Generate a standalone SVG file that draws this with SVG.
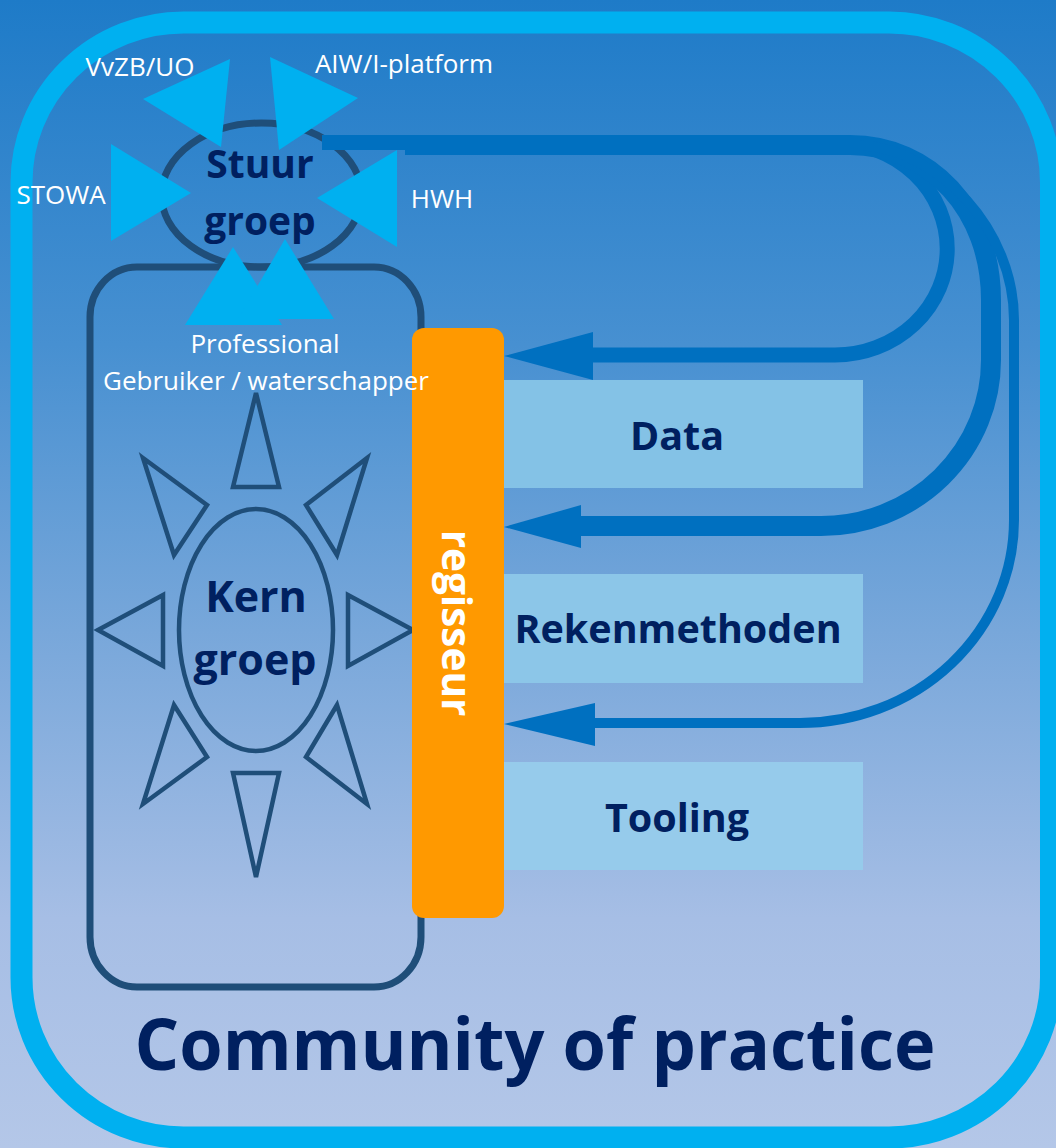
<svg xmlns="http://www.w3.org/2000/svg" width="1056" height="1148" viewBox="0 0 1056 1148">
  <defs>
    <linearGradient id="bg" x1="0" y1="0" x2="0" y2="1">
      <stop offset="0" stop-color="#1e7bc8"/>
      <stop offset="0.3" stop-color="#4790d1"/>
      <stop offset="0.55" stop-color="#78a7da"/>
      <stop offset="0.8" stop-color="#a6bee5"/>
      <stop offset="1" stop-color="#b4c7e8"/>
    </linearGradient>
    <style>
      .frame { fill: none; stroke: #00b0f0; stroke-width: 22; }
      .outline { fill: none; stroke: #1f4e79; stroke-width: 7; }
      .ray { fill: none; stroke: #1f4e79; stroke-width: 4.5; stroke-linejoin: miter; }
      .partner { fill: #00b0f0; }
      .flow { fill: none; stroke: #0070c0; }
      .head { fill: #0070c0; }
      .lbl { font-family: "Open Sans", "Liberation Sans", sans-serif; fill: #ffffff; font-size: 26px; text-anchor: middle; }
      .title { font-family: "Open Sans", "Liberation Sans", sans-serif; font-weight: bold; fill: #002060; text-anchor: middle; }
      .pillar { font-family: "Open Sans", "Liberation Sans", sans-serif; font-weight: bold; fill: #002060; font-size: 39.5px; text-anchor: middle; }
    </style>
  </defs>

  <!-- background -->
  <rect x="0" y="0" width="1056" height="1148" fill="url(#bg)"/>

  <!-- community frame -->
  <g id="community">
    <rect class="frame" x="21.5" y="22.5" width="1029.5" height="1115" rx="162" ry="160"/>
    <text class="title" x="535" y="1070" font-size="72" textLength="801" lengthAdjust="spacingAndGlyphs">Community of practice</text>
  </g>

  <!-- pillars -->
  <g id="data">
    <rect x="504" y="380" width="359" height="108" fill="#84c2e6"/>
    <text class="pillar" x="677" y="450">Data</text>
  </g>
  <g id="rekenmethoden">
    <rect x="504" y="574" width="359" height="109" fill="#8cc6e8"/>
    <text class="pillar" x="678" y="643">Rekenmethoden</text>
  </g>
  <g id="tooling">
    <rect x="504" y="762" width="359" height="108" fill="#96cbeb"/>
    <text class="pillar" x="677" y="832">Tooling</text>
  </g>

  <!-- steering group -->
  <g id="stuurgroep">
    <ellipse class="outline" cx="261.5" cy="195" rx="100" ry="72"/>
    <text class="title" x="260" y="178" font-size="39">Stuur</text>
    <text class="title" x="260" y="235" font-size="39">groep</text>
  </g>

  <!-- core group with its rays -->
  <g id="kerngroep">
    <rect class="outline" x="90" y="267" width="331" height="720" rx="47" ry="50"/>
    <ellipse class="ray" cx="256" cy="630" rx="77" ry="121"/>
    <polygon class="ray" points="256,393 233,487 279,487"/>
    <polygon class="ray" points="256,877 233,773 279,773"/>
    <polygon class="ray" points="98,630 163,595 163,666"/>
    <polygon class="ray" points="413,630 348,595 348,666"/>
    <polygon class="ray" points="143,458 207,505 174,555"/>
    <polygon class="ray" points="367,458 306,505 337,555"/>
    <polygon class="ray" points="174,705 207,757 143,804"/>
    <polygon class="ray" points="337,705 306,757 367,804"/>
    <text class="title" x="256" y="612" font-size="43">Kern</text>
    <text class="title" x="255" y="675" font-size="43">groep</text>
  </g>

  <!-- feedback connectors from the steering group to the director -->
  <g id="connectors">
    <path class="flow" stroke-width="15" d="M322,142.5 H835 A112,106 0 0 1 835,355 H588"/>
    <path class="flow" stroke-width="20" d="M405,145 H850 C930,145 991,210 991,300 V360 A170,166 0 0 1 821,526 H575"/>
    <path class="flow" stroke-width="10" d="M700,145 H860 C940,150 1014,230 1014,320 V520 A214,203 0 0 1 800,723 H590"/>
    <polygon class="head" points="504,356 593,332 593,380"/>
    <polygon class="head" points="504,527 581,505 581,548"/>
    <polygon class="head" points="504,724 595,703 595,746"/>
  </g>

  <!-- director -->
  <g id="regisseur">
    <rect x="412" y="328" width="92" height="590" rx="12" fill="#ff9900"/>
    <text x="0" y="0" transform="translate(442,623) rotate(90)" font-family="Open Sans, Liberation Sans, sans-serif" font-weight="bold" font-size="40.5" fill="#ffffff" text-anchor="middle">regisseur</text>
  </g>

  <!-- partners around the steering group -->
  <g id="vvzb">
    <polygon class="partner" points="143,99 230,59 221,147"/>
    <text class="lbl" x="140" y="76">VvZB/UO</text>
  </g>
  <g id="aiw">
    <polygon class="partner" points="270,57 358,98 279,150"/>
    <text class="lbl" x="404" y="73">AIW/I-platform</text>
  </g>
  <g id="stowa">
    <polygon class="partner" points="111,144 191,193 111,241"/>
    <text class="lbl" x="61" y="204">STOWA</text>
  </g>
  <g id="hwh">
    <polygon class="partner" points="397,150 317,198 397,247"/>
    <text class="lbl" x="442" y="208">HWH</text>
  </g>
  <g id="professional">
    <polygon class="partner" points="233,247 185,325 282,325"/>
    <polygon class="partner" points="285,239 238,319 334,319"/>
    <text class="lbl" x="265" y="353">Professional</text>
    <text class="lbl" x="266" y="390">Gebruiker / waterschapper</text>
  </g>
</svg>
